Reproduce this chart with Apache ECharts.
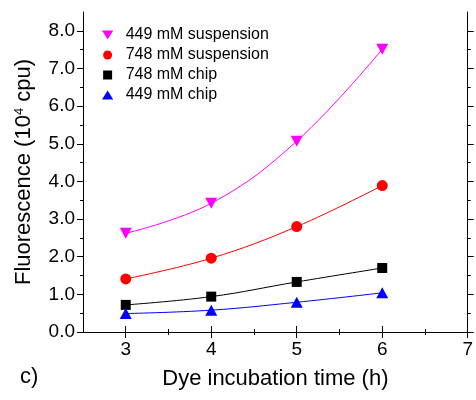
<!DOCTYPE html>
<html>
<head>
<meta charset="utf-8">
<script src="https://cdn.jsdelivr.net/npm/echarts@6/dist/echarts.min.js"></script>
<style>
  html, body { margin: 0; padding: 0; background: #fff; }
  #fluo-chart { width: 476px; height: 400px; }
</style>
</head>
<body>
<div id="fluo-chart"></div>
<script>
// incubation times (h)
const times = [3, 4, 5, 6];
// fluorescence in 10^4 cpu
const susp449 = [2.62, 3.42, 5.07, 7.51];
const susp748 = [1.41, 1.96, 2.80, 3.89];
const chip748 = [0.72, 0.94, 1.33, 1.70];
const chip449 = [0.49, 0.58, 0.79, 1.04];

const xMajor = [3, 4, 5, 6, 7];
const xMinor = [3.5, 4.5, 5.5, 6.5];
const yMajor = [0, 1, 2, 3, 4, 5, 6, 7, 8];
const yMinor = [0.5, 1.5, 2.5, 3.5, 4.5, 5.5, 6.5, 7.5];

const FONT = "'Liberation Sans', Arial, sans-serif";
const downTri = "path://M0,0 L10,0 L5,8 Z";
const upTri = "path://M5,0 L10,8 L0,8 Z";
const square = "path://M0,0 L8,0 L8,8 L0,8 Z";

function pairs(vals) {
  return times.map((t, i) => [t, vals[i]]);
}

// axis helper: ticks only, used for major/minor ticks and the box edges
function xAx(pos, ticks, len, withLine, withLabels) {
  return {
    type: "value",
    position: pos,
    min: 2.5,
    max: 7,
    axisLine: { show: withLine, lineStyle: { color: "#000", width: 1 } },
    axisTick: { show: true, inside: false, length: len, customValues: ticks, lineStyle: { color: "#000", width: 1 } },
    axisLabel: withLabels
      ? { show: true, customValues: ticks, color: "#000", fontSize: 19, fontFamily: FONT, margin: 8 }
      : { show: false },
    splitLine: { show: false },
  };
}
function yAx(pos, ticks, len, withLine, withLabels) {
  return {
    type: "value",
    position: pos,
    min: 0,
    max: 8.5,
    axisLine: { show: withLine, lineStyle: { color: "#000", width: 1 } },
    axisTick: { show: true, inside: false, length: len, customValues: ticks, lineStyle: { color: "#000", width: 1 } },
    axisLabel: withLabels
      ? { show: true, customValues: ticks, color: "#000", fontSize: 19, fontFamily: FONT, margin: 8,
          formatter: (v) => v.toFixed(1) }
      : { show: false },
    splitLine: { show: false },
  };
}

const chart = echarts.init(document.getElementById("fluo-chart"));

const xMain = xAx("bottom", xMajor, 6, true, true);
xMain.name = "Dye incubation time (h)";
xMain.nameLocation = "middle";
xMain.nameGap = 36;
xMain.nameTextStyle = { color: "#000", fontSize: 22, fontFamily: FONT };

const yMain = yAx("left", yMajor, 6, true, true);
yMain.name = "{a|Fluorescence (10}{s|4}{a| cpu)}";
yMain.nameLocation = "middle";
yMain.nameGap = 48;
yMain.nameTextStyle = {
  color: "#000",
  fontFamily: FONT,
  rich: {
    a: { fontSize: 22, color: "#000", fontFamily: FONT },
    s: { fontSize: 13, color: "#000", fontFamily: FONT, verticalAlign: "top" },
  },
};

function lineSeries(name, vals, color, symbol, size, rotate) {
  return {
    name: name,
    type: "line",
    smooth: 0.4,
    data: pairs(vals),
    symbol: symbol,
    symbolRotate: rotate || 0,
    symbolSize: size,
    itemStyle: { color: color },
    lineStyle: { color: color, width: 1 },
  };
}

const option = {
  animation: false,
  backgroundColor: "#fff",
  grid: { left: 83, right: 2, top: 12, bottom: 68, containLabel: false },
  legend: {
    orient: "vertical",
    left: 97,
    top: 22,
    itemWidth: 26,
    itemHeight: 9,
    itemGap: 4,
    textStyle: { color: "#000", fontSize: 16, fontFamily: FONT },
    data: [
      { name: "449 mM suspension", icon: downTri },
      { name: "748 mM suspension", icon: "circle" },
      { name: "748 mM chip", icon: square },
      { name: "449 mM chip", icon: upTri },
    ],
  },
  graphic: [
    {
      type: "text",
      left: 20,
      top: 366,
      style: { text: "c)", fontSize: 22, fontFamily: FONT, fill: "#000" },
    },
  ],
  xAxis: [
    xMain,
    xAx("bottom", xMinor, 3, false, false),
    xAx("top", xMajor, 6, true, false),
    xAx("top", xMinor, 3, false, false),
  ],
  yAxis: [
    yMain,
    yAx("left", yMinor, 3, false, false),
    yAx("right", yMajor, 6, true, false),
    yAx("right", yMinor, 3, false, false),
  ],
  series: [
    lineSeries("449 mM suspension", susp449, "#ff00ff", "triangle", [12, 11], 180),
    lineSeries("748 mM suspension", susp748, "#ff0000", "circle", 11),
    lineSeries("748 mM chip", chip748, "#000000", "rect", 10),
    lineSeries("449 mM chip", chip449, "#0000ff", "triangle", [12, 11]),
  ],
};

chart.setOption(option);
</script>
</body>
</html>
